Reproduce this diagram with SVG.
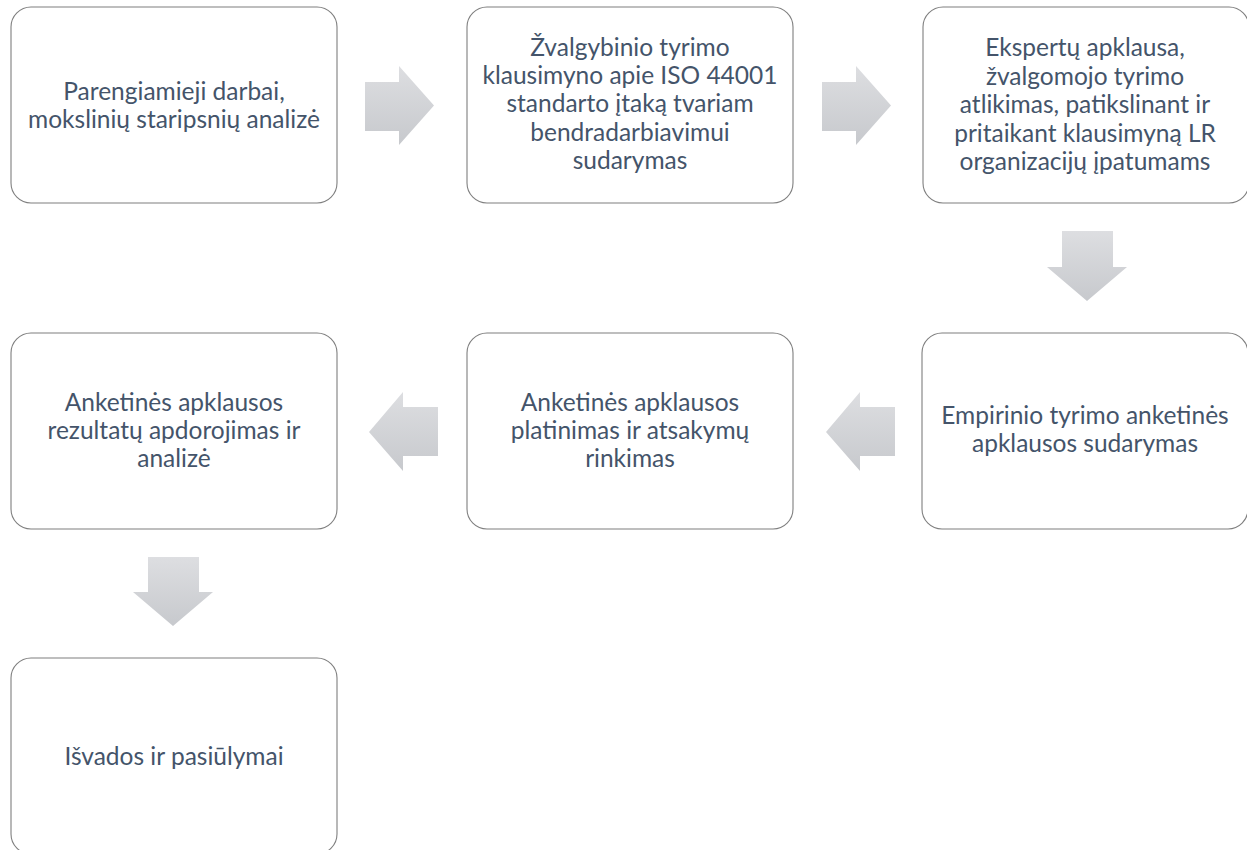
<svg xmlns="http://www.w3.org/2000/svg" width="1247" height="850" viewBox="0 0 1247 850">
  <style>
    .box { fill: #ffffff; stroke: #7f7f7f; stroke-width: 1.1; }
    .lbl { font-family: Lato, "Liberation Sans", sans-serif; font-size: 24.5px; fill: #44546a; text-anchor: middle; }
    .arr { fill: url(#ag); stroke: none; }
  </style>
  <defs>
    <linearGradient id="ag" x1="0" y1="0" x2="0" y2="1">
      <stop offset="0" stop-color="#dddee1"/>
      <stop offset="1" stop-color="#c7c9cd"/>
    </linearGradient>
  </defs>
  <rect width="1247" height="850" fill="#ffffff"/>

  <g id="connectors">
    <polygon class="arr" points="365,82 399,82 399,66 434,105.5 399,145 399,131 365,131"/>
    <polygon class="arr" points="822,82 856,82 856,66 891,105.5 856,145 856,131 822,131"/>
    <polygon class="arr" points="1062,231 1113,231 1113,267 1127,267 1087,301 1047,267 1062,267"/>
    <polygon class="arr" points="895,407 860,407 860,392 826,432 860,471 860,456 895,456"/>
    <polygon class="arr" points="438,407 403,407 403,392 369,432 403,471 403,456 438,456"/>
    <polygon class="arr" points="148,557 199,557 199,592 213,592 173,626 133,592 148,592"/>
  </g>

  <g id="node1">
    <rect class="box" x="11" y="7" width="326" height="196" rx="20"/>
    <text class="lbl" x="174"><tspan x="174" y="99.5">Parengiamieji darbai,</tspan><tspan x="174" y="128">mokslinių staripsnių analizė</tspan></text>
  </g>
  <g id="node2">
    <rect class="box" x="467" y="7" width="326" height="196" rx="20"/>
    <text class="lbl"><tspan x="630" y="55.5">Žvalgybinio tyrimo</tspan><tspan x="630" y="84">klausimyno apie ISO 44001</tspan><tspan x="630" y="112">standarto įtaką tvariam</tspan><tspan x="630" y="140.5">bendradarbiavimui</tspan><tspan x="630" y="169">sudarymas</tspan></text>
  </g>
  <g id="node3">
    <rect class="box" x="923" y="7" width="326" height="196" rx="20"/>
    <text class="lbl"><tspan x="1085" y="56">Ekspertų apklausa,</tspan><tspan x="1085" y="84.5">žvalgomojo tyrimo</tspan><tspan x="1085" y="113">atlikimas, patikslinant ir</tspan><tspan x="1085" y="141.5">pritaikant klausimyną LR</tspan><tspan x="1085" y="170">organizacijų įpatumams</tspan></text>
  </g>
  <g id="node4">
    <rect class="box" x="922" y="333" width="326" height="196" rx="20"/>
    <text class="lbl"><tspan x="1085" y="424">Empirinio tyrimo anketinės</tspan><tspan x="1085" y="452">apklausos sudarymas</tspan></text>
  </g>
  <g id="node5">
    <rect class="box" x="467" y="333" width="326" height="196" rx="20"/>
    <text class="lbl"><tspan x="630" y="411">Anketinės apklausos</tspan><tspan x="630" y="439">platinimas ir atsakymų</tspan><tspan x="630" y="467">rinkimas</tspan></text>
  </g>
  <g id="node6">
    <rect class="box" x="11" y="333" width="326" height="196" rx="20"/>
    <text class="lbl"><tspan x="174" y="411">Anketinės apklausos</tspan><tspan x="174" y="439">rezultatų apdorojimas ir</tspan><tspan x="174" y="467">analizė</tspan></text>
  </g>
  <g id="node7">
    <rect class="box" x="11" y="658" width="326" height="196" rx="20"/>
    <text class="lbl"><tspan x="174" y="765">Išvados ir pasiūlymai</tspan></text>
  </g>
</svg>
